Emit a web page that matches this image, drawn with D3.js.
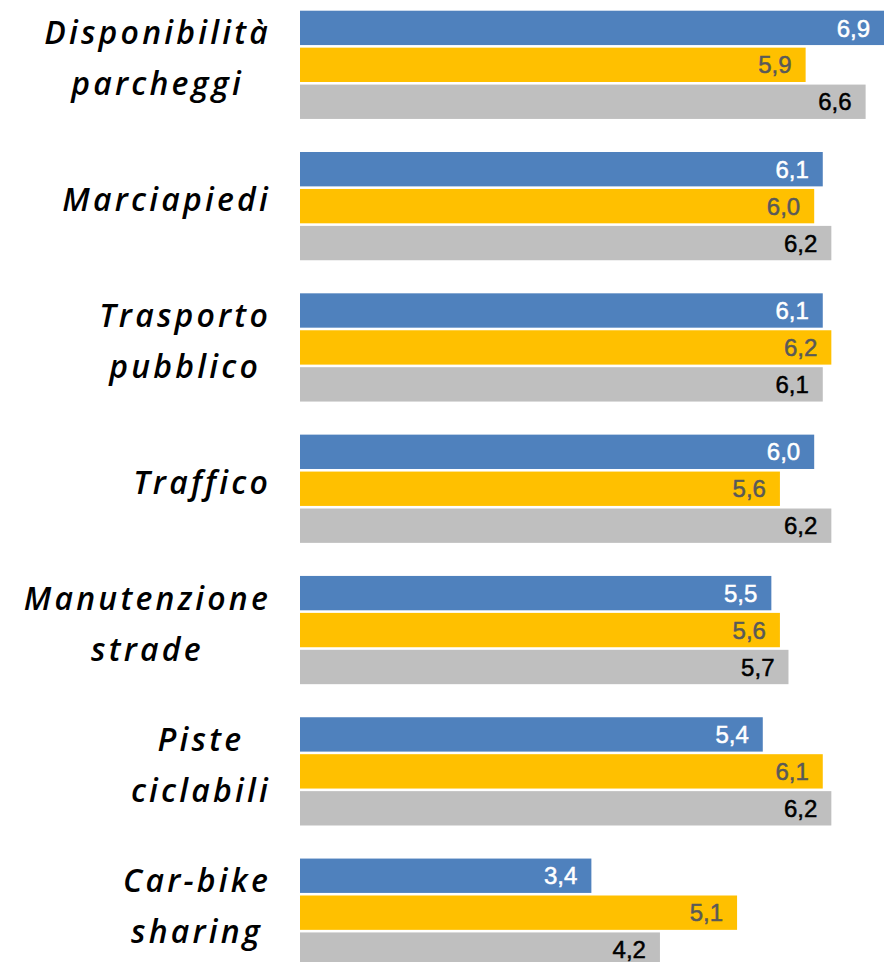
<!DOCTYPE html>
<html><head><meta charset="utf-8">
<script src="https://cdn.jsdelivr.net/npm/d3@7"></script>
<style>
html,body{margin:0;padding:0;background:#fff;overflow:hidden}
</style></head>
<body>
<svg id="chart" width="884" height="962"></svg>
<script>
const categories = [
  ["Disponibilità","parcheggi"],
  ["Marciapiedi"],
  ["Trasporto","pubblico"],
  ["Traffico"],
  ["Manutenzione","strade"],
  ["Piste","ciclabili"],
  ["Car-bike","sharing"]
];
const seriesNames = ["A","B","C"];
const seriesBlue   = [6.9, 6.1, 6.1, 6.0, 5.5, 5.4, 3.4];
const seriesYellow = [5.9, 6.0, 6.2, 5.6, 5.6, 6.1, 5.1];
const seriesGray   = [6.6, 6.2, 6.1, 6.2, 5.7, 6.2, 4.2];
const colors = ["#4f81bd", "#ffc000", "#bfbfbf"];
const labelColors = ["#ffffff", "#595959", "#000000"];

const W = 884;
const svg = d3.select("#chart");
const keys = categories.map(c => c.join(" "));
const allSeries = [seriesBlue, seriesYellow, seriesGray];

const x = d3.scaleLinear().domain([0, 7]).range([300, 300 + 7 * 85.7]);
const y0 = d3.scaleBand().domain(keys).range([10.7, 966.8]).paddingInner(0.234).paddingOuter(0);
const y1 = d3.scaleBand().domain(seriesNames).range([0, y0.bandwidth()]).paddingInner(0.07);

const fmt = v => d3.format(".1f")(v).replace(".", ",");

const groups = svg.selectAll("g.grp").data(keys).join("g")
  .attr("class","grp")
  .attr("transform", k => `translate(0,${y0(k)})`);

groups.each(function(k, i){
  const g = d3.select(this);
  seriesNames.forEach((s, j) => {
    const v = allSeries[j][i];
    const xe = Math.min(x(v), W);
    g.append("rect")
      .attr("x", x(0)).attr("y", y1(s))
      .attr("width", xe - x(0)).attr("height", y1.bandwidth())
      .attr("fill", colors[j]);
    g.append("text")
      .attr("x", xe - 14).attr("y", y1(s) + y1.bandwidth()/2)
      .attr("dy", "0.36em")
      .attr("text-anchor", "end")
      .attr("font-family", "Liberation Sans, Arial, sans-serif")
      .attr("font-size", 24)
      .attr("fill", labelColors[j])
      .attr("stroke", labelColors[j])
      .attr("stroke-width", 0.5)
      .text(fmt(v));
  });
});

// category labels
const rightEdge = 271;
categories.forEach((lines, i) => {
  const cy = y0(keys[i]) + y0.bandwidth()/2 + 5;
  const lh = 51;
  const t = svg.append("text")
    .attr("font-family", "'Segoe Print', 'Open Sans', sans-serif")
    .attr("font-style", "italic")
    .attr("font-weight", 600)
    .attr("font-size", 32)
    .attr("letter-spacing", 3.2)
    .attr("fill", "#000");
  const spans = lines.map((ln, li) => t.append("tspan")
    .attr("y", cy + (li - (lines.length - 1)/2) * lh)
    .text(ln));
  let maxW = 0;
  spans.forEach(sp => { maxW = Math.max(maxW, sp.node().getComputedTextLength()); });
  const cx = rightEdge - maxW/2;
  spans.forEach(sp => sp.attr("x", cx).attr("text-anchor", "middle"));
});
</script>
</body></html>
